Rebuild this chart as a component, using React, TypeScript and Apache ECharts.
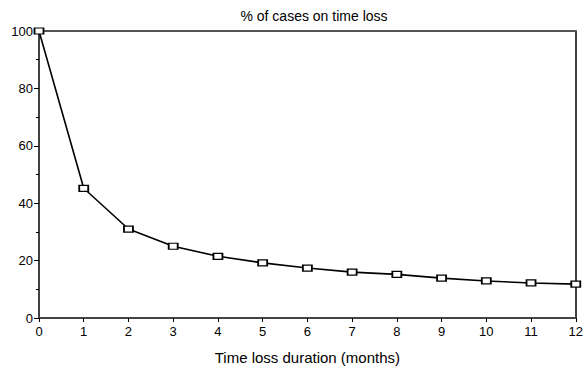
import React, { useEffect, useRef } from "react";
import * as echarts from "echarts";

const months = [0, 1, 2, 3, 4, 5, 6, 7, 8, 9, 10, 11, 12];
const percentCases = [100, 45.2, 31, 25, 21.5, 19.2, 17.4, 16, 15.2, 13.9, 12.9, 12.2, 11.8];
const titleText = "% of cases on time loss";
const xAxisTitle = "Time loss duration (months)";

export default function App() {
  const ref = useRef<HTMLDivElement>(null);
  useEffect(() => {
    if (!ref.current) return;
    const chart = echarts.init(ref.current, undefined, { renderer: "svg" });
    const font = "Liberation Sans, Arial, sans-serif";
    chart.setOption({
      animation: false,
      backgroundColor: "#fff",
      title: {
        text: titleText,
        left: 309,
        textAlign: "center",
        top: 4,
        textStyle: { fontFamily: font, fontSize: 14, fontWeight: "normal", color: "#000" },
      },
      grid: { left: 39, right: 7, top: 31, bottom: 56, containLabel: false },
      xAxis: [
        {
          type: "value",
          min: 0,
          max: 12,
          interval: 1,
          position: "bottom",
          name: xAxisTitle,
          nameLocation: "middle",
          nameGap: 32,
          nameTextStyle: { fontFamily: font, fontSize: 15, color: "#000" },
          axisLine: { show: true, onZero: false, lineStyle: { color: "#444", width: 2 } },
          axisTick: { show: true, length: 4, lineStyle: { color: "#000" } },
          axisLabel: { fontFamily: font, fontSize: 13, color: "#000", margin: 7 },
          splitLine: { show: false },
        },
        {
          type: "value",
          min: 0,
          max: 12,
          position: "top",
          axisLine: { show: true, onZero: false, lineStyle: { color: "#555", width: 2 } },
          axisTick: { show: false },
          axisLabel: { show: false },
          splitLine: { show: false },
        },
      ],
      yAxis: [
        {
          type: "value",
          min: 0,
          max: 100,
          interval: 20,
          position: "left",
          axisLine: { show: true, onZero: false, lineStyle: { color: "#000", width: 1.5 } },
          axisTick: { show: true, length: 5, lineStyle: { color: "#000" } },
          minorTick: { show: true, splitNumber: 2, length: 3, lineStyle: { color: "#000" } },
          axisLabel: { fontFamily: font, fontSize: 13, color: "#000", margin: 6 },
          splitLine: { show: false },
        },
        {
          type: "value",
          min: 0,
          max: 100,
          position: "right",
          axisLine: { show: true, onZero: false, lineStyle: { color: "#000", width: 1.5 } },
          axisTick: { show: false },
          axisLabel: { show: false },
          splitLine: { show: false },
        },
      ],
      series: [
        {
          type: "line",
          data: months.map((m, i) => [m, percentCases[i]]),
          smooth: false,
          symbol: "rect",
          symbolSize: [9, 6],
          itemStyle: { color: "#fff", borderColor: "#000", borderWidth: 1.5 },
          lineStyle: { color: "#000", width: 1.6 },
          clip: false,
          z: 5,
        },
      ],
    });
    return () => chart.dispose();
  }, []);
  return <div ref={ref} style={{ width: 586, height: 374, position: "absolute", left: 0, top: 0 }} />;
}
